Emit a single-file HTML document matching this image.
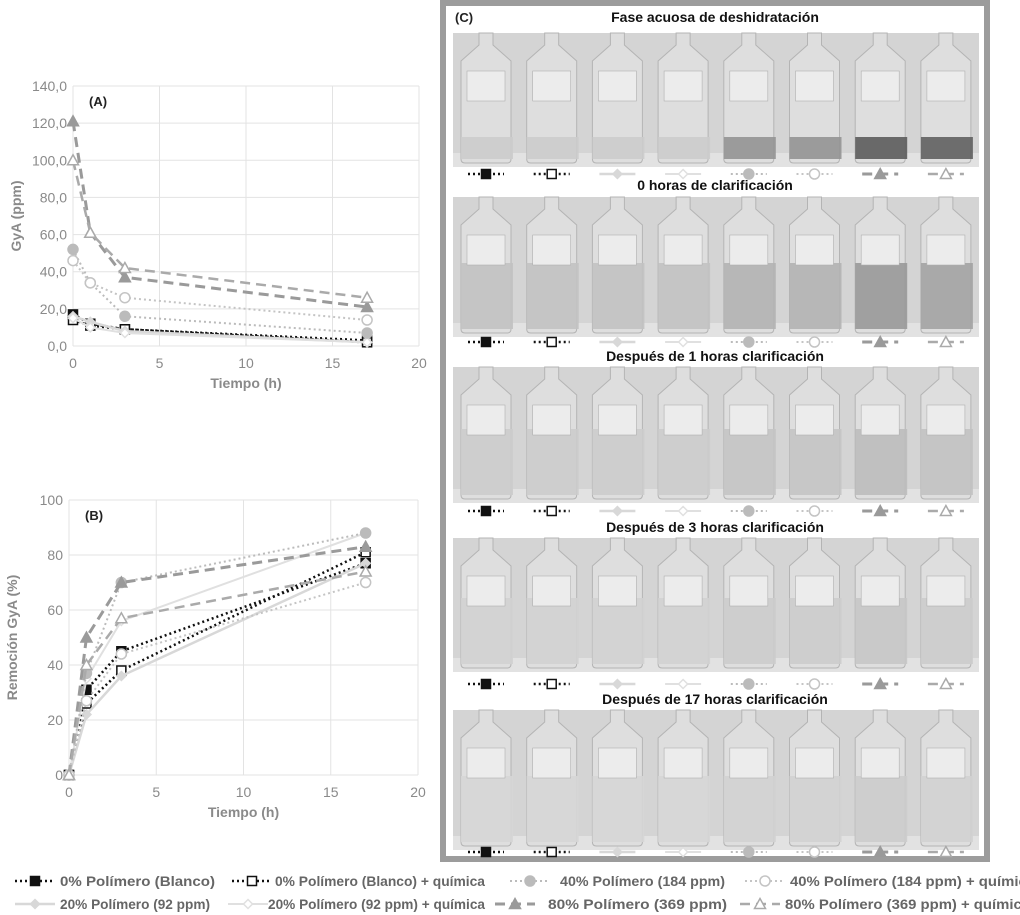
<!DOCTYPE html>
<html><head><meta charset="utf-8">
<style>
body{margin:0;background:#fff;width:1020px;height:915px;overflow:hidden;font-family:"Liberation Sans",sans-serif;}
svg{position:absolute;left:0;top:0}
</style></head>
<body>
<svg id="fig" width="1020" height="915" xmlns="http://www.w3.org/2000/svg"></svg>
<script>
const times=[0,1,3,17];
const seriesNames=["0% Polímero (Blanco)","0% Polímero (Blanco) + química","20% Polímero (92 ppm)","20% Polímero (92 ppm) + química","40% Polímero (184 ppm)","40% Polímero (184 ppm) + química","80% Polímero (369 ppm)","80% Polímero (369 ppm) + química"];
const gyaBlanco=[17,12,9,3];
const gyaBlancoQ=[14,11,9,2];
const gya20=[16,13,8,2];
const gya20Q=[15,10,7,2];
const gya40=[52,34,16,7];
const gya40Q=[46,34,26,14];
const gya80=[121,61,37,21];
const gya80Q=[100,61,42,26];
const remBlanco=[0,31,45,77];
const remBlancoQ=[0,26,38,81];
const rem20=[0,22,36,77];
const rem20Q=[0,35,56,88];
const rem40=[0,37,70,88];
const rem40Q=[0,27,44,70];
const rem80=[0,50,70,83];
const rem80Q=[0,40,57,74];
const xTicks=[0,5,10,15,20];
const yTicksA=[0,20,40,60,80,100,120,140];
const yTicksB=[0,20,40,60,80,100];

const NS="http://www.w3.org/2000/svg";
const svg=document.getElementById('fig');
function el(tag,attrs,parent,text){const e=document.createElementNS(NS,tag);for(const k in attrs)e.setAttribute(k,attrs[k]);if(text!==undefined)e.textContent=text;(parent||svg).appendChild(e);return e;}

const styles=[
 {c:"#111",w:2.5,d:"2,3",m:"sq",f:"#111"},
 {c:"#111",w:2.5,d:"2,3",m:"sq",f:"#fff"},
 {c:"#d8d8d8",w:2.5,d:"",m:"di",f:"#d8d8d8"},
 {c:"#e0e0e0",w:2,d:"",m:"di",f:"#fff"},
 {c:"#bbb",w:2,d:"2,3",m:"ci",f:"#bbb"},
 {c:"#c4c4c4",w:2,d:"2,3",m:"ci",f:"#fff"},
 {c:"#9a9a9a",w:3,d:"10,6",m:"tr",f:"#9a9a9a"},
 {c:"#aaa",w:2.5,d:"10,6",m:"tr",f:"#fff"}
];
function marker(g,m,x,y,s,fill,col){
 if(m==="sq")return el('rect',{x:x-4.5,y:y-4.5,width:9,height:9,fill:fill,stroke:col,'stroke-width':1.5},g);
 if(m==="di")return el('path',{d:`M${x} ${y-4.5}L${x+4.5} ${y}L${x} ${y+4.5}L${x-4.5} ${y}Z`,fill:fill,stroke:col,'stroke-width':1.5},g);
 if(m==="ci")return el('circle',{cx:x,cy:y,r:5,fill:fill,stroke:col,'stroke-width':1.5},g);
 return el('path',{d:`M${x} ${y-5.5}L${x+5.5} ${y+4.5}L${x-5.5} ${y+4.5}Z`,fill:fill,stroke:col,'stroke-width':1.5},g);
}

function chart(name,x0,x1,y0,y1,ymax,yTicks,fmt,data,ytitle,label){
 const g=el('g',{}, svg);
 
 
 const sx=v=>x0+(x1-x0)*v/20, sy=v=>y0-(y0-y1)*v/ymax;
 yTicks.forEach(t=>{
  const l=el('line',{x1:x0,x2:x1,y1:sy(t),y2:sy(t),stroke:"#e3e3e3",'stroke-width':1},g);
  
  const tx=el('text',{x:x0-6,y:sy(t)+5,'text-anchor':'end','font-size':14,fill:"#8a8a8a"},g,fmt(t));
  
 });
 xTicks.forEach(t=>{
  const l=el('line',{x1:sx(t),x2:sx(t),y1:y0,y2:y1,stroke:"#e3e3e3",'stroke-width':1},g);
  
  const tx=el('text',{x:sx(t),y:y0+22,'text-anchor':'middle','font-size':14,fill:"#8a8a8a"},g,String(t));
  
 });
 const xt=el('text',{x:(x0+x1)/2,y:y0+42,'text-anchor':'middle','font-size':14,'font-weight':'bold',fill:"#8a8a8a"},g,"Tiempo (h)");
 
 const yc=(y0+y1)/2;
 const yt=el('text',{x:0,y:0,transform:`translate(${x0-52},${yc}) rotate(-90)`,'text-anchor':'middle','font-size':14,'font-weight':'bold',fill:"#8a8a8a"},g,ytitle);
 
 const lb=el('text',{x:x0+16,y:y1+20,'font-size':13,'font-weight':'bold',fill:"#222"},g,label);
 
 data.forEach((arr,i)=>{
  const s=styles[i];
  const pts=arr.map((v,j)=>sx(times[j])+","+sy(v)).join(" ");
  const pl=el('polyline',{points:pts,fill:"none",stroke:s.c,'stroke-width':s.w,'stroke-dasharray':s.d},g);
  
  arr.forEach((v,j)=>{const m=marker(g,s.m,sx(times[j]),sy(v),0,s.f,s.c);
   });
 });
}
chart('chart-a-gya',73,419,346,86,140,yTicksA,t=>t.toFixed(1).replace('.',','),[gyaBlanco,gyaBlancoQ,gya20,gya20Q,gya40,gya40Q,gya80,gya80Q],"GyA (ppm)","(A)");
chart('chart-b-remocion',69,418,775,500,100,yTicksB,t=>String(t),[remBlanco,remBlancoQ,rem20,rem20Q,rem40,rem40Q,rem80,rem80Q],"Remoción GyA (%)","(B)");

// Panel C
const pc=el('g',{},svg);


const box=el('rect',{x:443,y:3,width:544,height:856,fill:"#fff",stroke:"#9c9c9c",'stroke-width':6},pc);

const pl=el('text',{x:455,y:22,'font-size':13,'font-weight':'bold',fill:"#222"},pc,"(C)");

const rows=[
 {t:"Fase acuosa de deshidratación",ty:22,py:33,ph:134,my:174,liq:[.8,.8,.8,.8,.58,.58,.36,.38],lh:26},
 {t:"0 horas de clarificación",ty:190,py:197,ph:140,my:342,liq:[.76,.76,.76,.76,.7,.7,.6,.64],lh:70},
 {t:"Después de 1 horas clarificación",ty:361,py:367,ph:136,my:511,liq:[.8,.8,.8,.8,.77,.77,.74,.76],lh:70},
 {t:"Después de 3 horas clarificación",ty:532,py:538,ph:134,my:684,liq:[.82,.82,.82,.82,.8,.8,.78,.8],lh:70},
 {t:"Después de 17 horas clarificación",ty:704,py:710,ph:140,my:852,liq:[.84,.84,.84,.84,.82,.82,.8,.82],lh:70}
];
function g2(v){const c=Math.round(v*255);return `rgb(${c},${c},${c})`;}
rows.forEach((r,ri)=>{
 const tt=el('text',{x:715,y:r.ty,'text-anchor':'middle','font-size':14,'font-weight':'bold',fill:"#111"},pc,r.t);
 
 const ph=el('rect',{x:453,y:r.py,width:526,height:r.ph,fill:"#d4d4d4"},pc);
 
 el('rect',{x:453,y:r.py+r.ph-14,width:526,height:14,fill:"#e2e2e2"},pc);
 for(let b=0;b<8;b++){
  const bx=453+b*65.7+6, bw=54, top=r.py+12, bot=r.py+r.ph-4;
  const bottle=el('path',{d:`M${bx+20} ${r.py} h14 v12 l18 16 v${bot-top-20} q0 4 -4 4 h-42 q-4 0 -4 -4 v${-(bot-top-20)} l18 -16 z`,fill:"#dedede",stroke:"#b4b4b4",'stroke-width':1},pc);
  
  el('rect',{x:bx+2,y:bot-r.lh,width:bw-2,height:r.lh-4,fill:g2(r.liq[b]),opacity:0.9},pc);
  el('rect',{x:bx+8,y:top+26,width:38,height:30,fill:"#ececec",stroke:"#b0b0b0",'stroke-width':0.6},pc);
 }
 for(let b=0;b<8;b++){
  const cx=453+b*65.7+33, s=styles[b];
  const ln=el('line',{x1:cx-18,x2:cx+18,y1:r.my,y2:r.my,stroke:s.c,'stroke-width':s.w,'stroke-dasharray':s.d},pc);
  
  const m=marker(pc,s.m,cx,r.my,0,s.f,s.c);
  
 }
});

// Legend: order 0,1,4,5 / 2,3,6,7
const lg=el('g',{},svg);


const legOrder=[0,1,4,5,2,3,6,7];
const legPos=[[35,60,886,155],[252,275,886,210],[530,560,886,165],[765,790,886,245],[35,60,909,150],[248,268,909,217],[515,548,909,179],[760,785,909,245]];
legOrder.forEach((si,k)=>{
 const [mx,tx,y,tl]=legPos[k], s=styles[si];
 const e=el('g',{},lg);
 
 
 el('line',{x1:mx-20,x2:mx+20,y1:y-5,y2:y-5,stroke:s.c,'stroke-width':s.w,'stroke-dasharray':s.d},e);
 marker(e,s.m,mx,y-5,0,s.f,s.c);
 el('text',{x:tx,y:y,'font-size':14,'font-weight':'bold',fill:"#666",textLength:tl,lengthAdjust:"spacingAndGlyphs"},e,seriesNames[si]);
});
</script>
</body></html>
